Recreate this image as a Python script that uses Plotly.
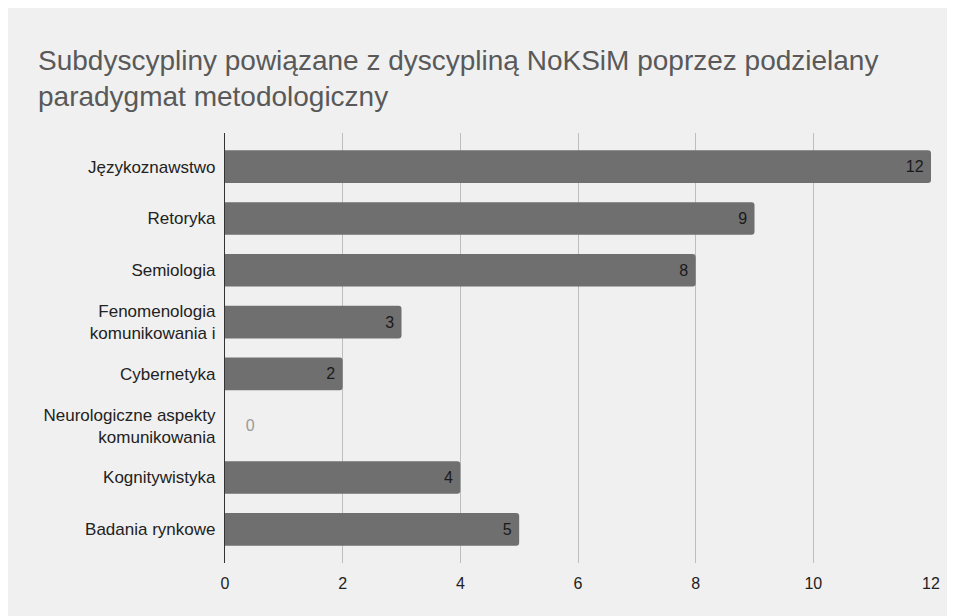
import plotly.graph_objects as go

categories = ["Językoznawstwo", "Retoryka", "Semiologia", "Fenomenologia<br>komunikowania i",
              "Cybernetyka", "Neurologiczne aspekty<br>komunikowania", "Kognitywistyka", "Badania rynkowe"]
values = [12, 9, 8, 3, 2, 0, 4, 5]
x_ticks = [0, 2, 4, 6, 8, 10, 12]

title_text = "Subdyscypliny powiązane z dyscypliną NoKSiM poprzez podzielany<br>paradygmat metodologiczny"

texts = [str(v) + "\u00a0" if v > 0 else "\u00a0\u00a0\u00a0\u00a0" + str(v) for v in values]
positions = ["inside" if v > 0 else "outside" for v in values]

FONT = "Liberation Sans, Arial"

fig = go.Figure(go.Bar(
    y=categories, x=values, orientation="h",
    marker=dict(color="#6f6f6f", line=dict(width=0), cornerradius=3),
    text=texts, textposition=positions, insidetextanchor="end",
    insidetextfont=dict(color="#1a1a1a", size=16, family=FONT),
    outsidetextfont=dict(color="#9a9a9a", size=16, family=FONT),
    cliponaxis=False, width=0.63,
))

fig.update_layout(
    width=955, height=616,
    margin=dict(l=217, r=32, t=125, b=61),
    paper_bgcolor="#f0f0f0", plot_bgcolor="#f0f0f0",
    font=dict(family=FONT, color="#222222", size=17),
    title=dict(text=title_text, x=30/955, xanchor="left", xref="container",
               y=1 - 62/616, yanchor="top",
               font=dict(size=28, color="#595959", family=FONT)),
    showlegend=False,
)
fig.update_xaxes(range=[0, 12], tickvals=x_ticks, showgrid=True, gridcolor="#bdbdbd", gridwidth=1,
                 zeroline=False, showline=False, tickfont=dict(size=16, color="#222222"),
                 ticks="outside", ticklen=6, tickcolor="rgba(0,0,0,0)")
fig.update_yaxes(autorange=False, range=[7.65, -0.65], showgrid=False, showline=True, linecolor="#333333",
                 linewidth=1.2, tickfont=dict(size=17, color="#222222"),
                 ticks="outside", ticklen=5, tickcolor="rgba(0,0,0,0)")

fig.write_html("out.html", default_width="947px")
